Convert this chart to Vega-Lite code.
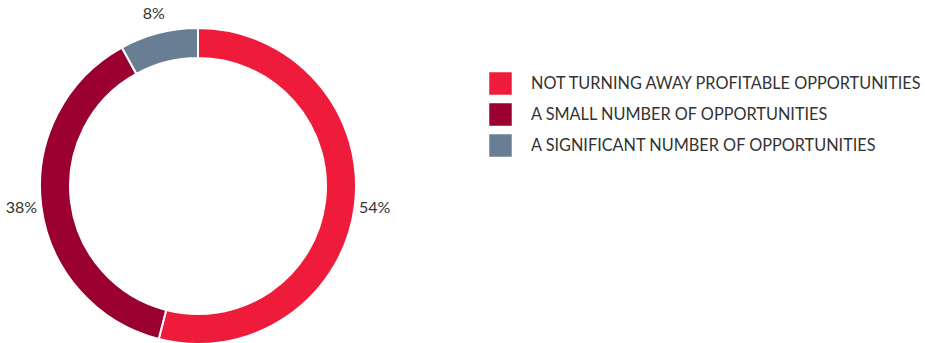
{
  "$schema": "https://vega.github.io/schema/vega-lite/v6.json",
  "width": 396,
  "height": 372,
  "autosize": {"type": "none"},
  "padding": {"left": 0, "top": 0, "right": 529, "bottom": 0},
  "background": "white",
  "config": {"view": {"stroke": null}, "font": "Lato"},
  "data": {
    "values": [
      {"category": "NOT TURNING AWAY PROFITABLE OPPORTUNITIES", "value": 54, "order": 1, "label": "54%"},
      {"category": "A SMALL NUMBER OF OPPORTUNITIES", "value": 38, "order": 2, "label": "38%"},
      {"category": "A SIGNIFICANT NUMBER OF OPPORTUNITIES", "value": 8, "order": 3, "label": "8%"}
    ]
  },
  "encoding": {
    "theta": {"field": "value", "type": "quantitative", "stack": true},
    "order": {"field": "order", "type": "quantitative"}
  },
  "layer": [
    {
      "mark": {"type": "arc", "outerRadius": 158, "innerRadius": 128, "stroke": "white", "strokeWidth": 2},
      "encoding": {
        "color": {
          "field": "category",
          "type": "nominal",
          "sort": ["NOT TURNING AWAY PROFITABLE OPPORTUNITIES", "A SMALL NUMBER OF OPPORTUNITIES", "A SIGNIFICANT NUMBER OF OPPORTUNITIES"],
          "scale": {
            "domain": ["NOT TURNING AWAY PROFITABLE OPPORTUNITIES", "A SMALL NUMBER OF OPPORTUNITIES", "A SIGNIFICANT NUMBER OF OPPORTUNITIES"],
            "range": ["#EE1C3A", "#9A0030", "#687E92"]
          },
          "legend": {
            "title": null,
            "orient": "none",
            "legendX": 489,
            "legendY": 72,
            "padding": 0,
            "symbolType": "square",
            "symbolSize": 506,
            "symbolStrokeWidth": 0,
            "symbolOpacity": 1,
            "labelFont": "Lato",
            "labelFontSize": 16.3,
            "labelColor": "#333333",
            "labelOffset": 19,
            "rowPadding": 8,
            "labelLimit": 500
          }
        }
      }
    },
    {
      "mark": {"type": "text", "radius": 178, "font": "Lato", "fontSize": 16, "color": "#333333"},
      "encoding": {"text": {"field": "label"}}
    }
  ]
}
